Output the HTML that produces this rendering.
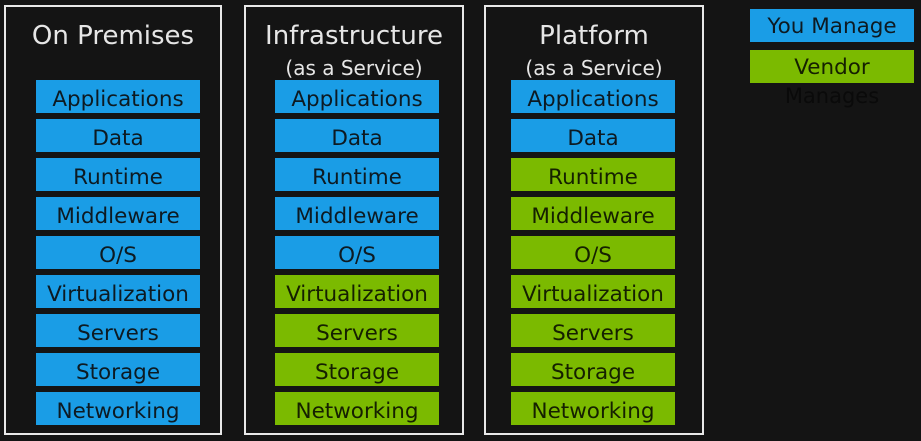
<!DOCTYPE html>
<html><head><meta charset="utf-8"><style>
html,body{margin:0;padding:0;}
body{width:921px;height:441px;background:#141414;position:relative;overflow:hidden;font-family:"DejaVu Sans","Liberation Sans",sans-serif;}
.box{position:absolute;top:5px;height:430px;border:2px solid #e8e8e8;box-sizing:border-box;}
.t{position:absolute;left:0;right:0;text-align:center;color:#e6e6e6;white-space:nowrap;}
.title{top:14px;font-size:26px;}
.sub{top:49px;font-size:20px;}
.b{position:absolute;width:164px;height:33px;box-sizing:border-box;padding-top:7px;text-align:center;font-size:21.5px;line-height:26px;color:#0d1a22;white-space:nowrap;}
.bl{background:#1a9de6;}
.gr{background:#7bba00;color:#152000;}
.m{position:absolute;left:750px;top:84px;width:164px;text-align:center;font-size:21px;color:#0a0a0a;}
</style></head><body>
<div class="box" style="left:4px;width:218px"><div class="t title">On Premises</div></div>
<div class="box" style="left:244px;width:220px"><div class="t title">Infrastructure</div><div class="t sub">(as a Service)</div></div>
<div class="box" style="left:484px;width:220px"><div class="t title">Platform</div><div class="t sub">(as a Service)</div></div>

<div class="b bl" style="left:36px;top:80px">Applications</div>
<div class="b bl" style="left:36px;top:119px">Data</div>
<div class="b bl" style="left:36px;top:158px">Runtime</div>
<div class="b bl" style="left:36px;top:197px">Middleware</div>
<div class="b bl" style="left:36px;top:236px">O/S</div>
<div class="b bl" style="left:36px;top:275px">Virtualization</div>
<div class="b bl" style="left:36px;top:314px">Servers</div>
<div class="b bl" style="left:36px;top:353px">Storage</div>
<div class="b bl" style="left:36px;top:392px">Networking</div>

<div class="b bl" style="left:275px;top:80px">Applications</div>
<div class="b bl" style="left:275px;top:119px">Data</div>
<div class="b bl" style="left:275px;top:158px">Runtime</div>
<div class="b bl" style="left:275px;top:197px">Middleware</div>
<div class="b bl" style="left:275px;top:236px">O/S</div>
<div class="b gr" style="left:275px;top:275px">Virtualization</div>
<div class="b gr" style="left:275px;top:314px">Servers</div>
<div class="b gr" style="left:275px;top:353px">Storage</div>
<div class="b gr" style="left:275px;top:392px">Networking</div>

<div class="b bl" style="left:511px;top:80px">Applications</div>
<div class="b bl" style="left:511px;top:119px">Data</div>
<div class="b gr" style="left:511px;top:158px">Runtime</div>
<div class="b gr" style="left:511px;top:197px">Middleware</div>
<div class="b gr" style="left:511px;top:236px">O/S</div>
<div class="b gr" style="left:511px;top:275px">Virtualization</div>
<div class="b gr" style="left:511px;top:314px">Servers</div>
<div class="b gr" style="left:511px;top:353px">Storage</div>
<div class="b gr" style="left:511px;top:392px">Networking</div>

<div class="b bl" style="left:750px;top:9px;padding-top:5px">You Manage</div>
<div class="b gr" style="left:750px;top:50px;padding-top:5px">Vendor</div>
<div class="m">Manages</div>
</body></html>
